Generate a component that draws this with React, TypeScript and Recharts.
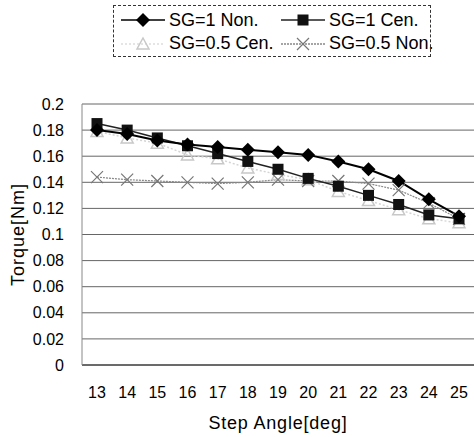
import { LineChart, Line, XAxis, YAxis, CartesianGrid } from 'recharts'

const angles = [13, 14, 15, 16, 17, 18, 19, 20, 21, 22, 23, 24, 25]
const sg1Non = [0.18, 0.177, 0.172, 0.169, 0.167, 0.165, 0.163, 0.161, 0.156, 0.15, 0.141, 0.127, 0.114]
const sg1Cen = [0.185, 0.18, 0.174, 0.168, 0.162, 0.156, 0.15, 0.143, 0.137, 0.13, 0.123, 0.115, 0.112]
const sg05Cen = [0.179, 0.174, 0.17, 0.161, 0.158, 0.151, 0.146, 0.142, 0.133, 0.126, 0.119, 0.112, 0.109]
const sg05Non = [0.144, 0.142, 0.141, 0.14, 0.139, 0.14, 0.142, 0.141, 0.141, 0.139, 0.134, 0.124, 0.112]
const yTicks = [0, 0.02, 0.04, 0.06, 0.08, 0.1, 0.12, 0.14, 0.16, 0.18, 0.2]

const data = angles.map((a, i) => ({
  angle: a,
  sg1Non: sg1Non[i],
  sg1Cen: sg1Cen[i],
  sg05Cen: sg05Cen[i],
  sg05Non: sg05Non[i],
}))

const FONT = '"Liberation Sans", Arial, sans-serif'

const Diamond = ({ cx, cy }: any) => (
  <path d={`M${cx},${cy - 7} L${cx + 7},${cy} L${cx},${cy + 7} L${cx - 7},${cy} Z`} fill="#000" />
)
const Square = ({ cx, cy }: any) => <rect x={cx - 5.5} y={cy - 5.5} width={11} height={11} fill="#111" />
const Tri = ({ cx, cy }: any) => (
  <path d={`M${cx},${cy - 6} L${cx + 6},${cy + 5} L${cx - 6},${cy + 5} Z`} fill="none" stroke="#c8c8c8" strokeWidth={1.5} />
)
const Cross = ({ cx, cy }: any) => (
  <path d={`M${cx - 6},${cy - 6} L${cx + 6},${cy + 6} M${cx - 6},${cy + 6} L${cx + 6},${cy - 6}`} stroke="#777" strokeWidth={1.2} />
)

const legendItems = [
  { label: 'SG=1 Non.', stroke: '#000', dash: undefined, Mark: Diamond },
  { label: 'SG=1 Cen.', stroke: '#222', dash: undefined, Mark: Square },
  { label: 'SG=0.5 Cen.', stroke: '#ddd', dash: '2 2', Mark: Tri },
  { label: 'SG=0.5 Non.', stroke: '#888', dash: '2 1', Mark: Cross },
]

const LegendBox = () => (
  <div
    style={{
      position: 'absolute',
      left: 113,
      top: 5,
      width: 318,
      height: 52,
      border: '1px dashed #333',
      boxSizing: 'border-box',
      display: 'grid',
      gridTemplateColumns: '160px 156px',
      fontFamily: FONT,
      fontSize: 18,
      color: '#000',
      paddingTop: 3,
      whiteSpace: 'nowrap',
    }}
  >
    {legendItems.map((it) => (
      <div key={it.label} style={{ display: 'flex', alignItems: 'center', height: 22 }}>
        <svg width={50} height={20} style={{ marginLeft: 5, flex: 'none' }}>
          <line x1={2} y1={10} x2={46} y2={10} stroke={it.stroke} strokeWidth={1.5} strokeDasharray={it.dash} />
          <it.Mark cx={24} cy={10} />
        </svg>
        <span>{it.label}</span>
      </div>
    ))}
  </div>
)

export default function App() {
  return (
    <div style={{ position: 'absolute', left: 0, top: 0, width: 474, height: 437, background: '#fff' }}>
      <LineChart width={474} height={437} data={data} margin={{ top: 104, right: 0, bottom: 0, left: 10 }}>
        <CartesianGrid vertical={false} stroke="#666" />
        <XAxis
          dataKey="angle"
          height={72}
          padding={{ left: 15, right: 15 }}
          tickLine={false}
          axisLine={{ stroke: '#222' }}
          tickMargin={16}
          tick={{ fontSize: 16, fill: '#000', fontFamily: FONT }}
          interval={0}
          label={{ value: 'Step Angle[deg]', position: 'insideBottom', offset: 8, fontSize: 18, fill: '#000', fontFamily: FONT, style: { letterSpacing: 0.8 } }}
        />
        <YAxis
          width={72}
          domain={[0, 0.2]}
          ticks={yTicks}
          interval={0}
          tickLine={false}
          axisLine={{ stroke: '#888' }}
          tickMargin={12}
          tick={{ fontSize: 16, fill: '#000', fontFamily: FONT }}
          tickFormatter={(v: number) => String(v)}
          label={{ value: 'Torque[Nm]', angle: -90, position: 'insideLeft', offset: 0, dx: 8, fontSize: 18, fill: '#000', fontFamily: FONT, style: { letterSpacing: 1, textAnchor: 'middle' } }}
        />
        <Line dataKey="sg05Cen" stroke="#d4d4d4" strokeWidth={1.5} strokeDasharray="2 2" dot={<Tri />} isAnimationActive={false} />
        <Line dataKey="sg05Non" stroke="#888" strokeWidth={1.2} strokeDasharray="2 1" dot={<Cross />} isAnimationActive={false} />
        <Line dataKey="sg1Cen" stroke="#222" strokeWidth={1.5} dot={<Square />} isAnimationActive={false} />
        <Line dataKey="sg1Non" stroke="#000" strokeWidth={2} dot={<Diamond />} isAnimationActive={false} />
      </LineChart>
      <LegendBox />
    </div>
  )
}
